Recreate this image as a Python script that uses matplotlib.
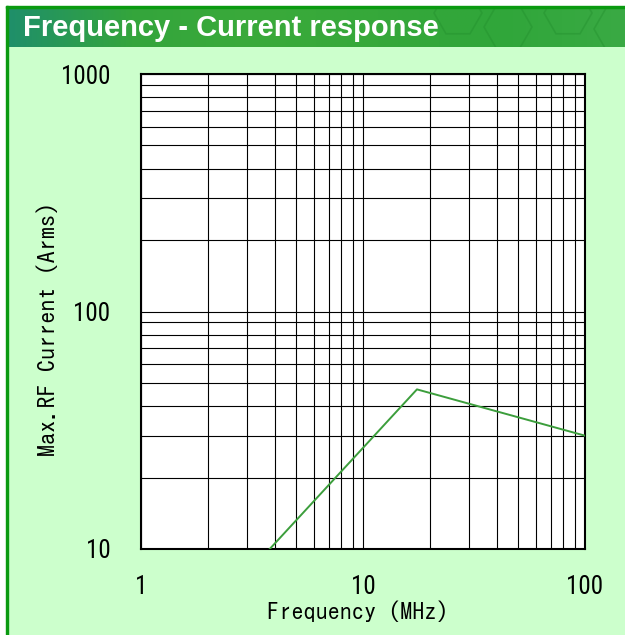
import matplotlib
matplotlib.use("Agg")
import numpy as np
import matplotlib.pyplot as plt
from matplotlib.patches import Rectangle, RegularPolygon
from matplotlib.ticker import LogLocator, FixedLocator, NullFormatter

# data
freq_mhz = [3.8, 17.5, 100]
current_arms = [10, 47, 30]

x_ticks = [1, 10, 100]
x_tick_labels = ["1", "10", "100"]
y_ticks = [10, 100, 1000]
y_tick_labels = ["10", "100", "1000"]

title = "Frequency - Current response"
xlabel = "Frequency (MHz)"
ylabel = "Max.RF Current (Arms)"

W, H = 625, 635
fig = plt.figure(figsize=(W / 100, H / 100), dpi=100)
fig.patch.set_facecolor("#ccffcc")


def px_rect(x0, y0, x1, y1, **kw):
    # rectangle given in pixel coords from the top-left corner
    r = Rectangle((x0 / W, 1 - y1 / H), (x1 - x0) / W, (y1 - y0) / H,
                  transform=fig.transFigure, **kw)
    fig.add_artist(r)
    return r


px_rect(0, 0, W, 6, color="white", zorder=0)
px_rect(0, 0, 6, H, color="white", zorder=0)

# banner with a soft gradient and faint hexagons
ban = fig.add_axes([8 / W, 1 - 47 / H, (W - 8) / W, 39 / H])
grad = np.linspace(0, 1, 256).reshape(1, -1)
cmap = matplotlib.colors.LinearSegmentedColormap.from_list(
    "ban", ["#1f8f6a", "#34a53c", "#3aaa3a", "#36a83a", "#30a63a", "#3aaa44"])
ban.imshow(grad, aspect="auto", cmap=cmap, extent=[0, W - 8, 0, 39])
for cx, cy in [(500, 20), (560, 34), (610, 18), (450, 34)]:
    ban.add_patch(RegularPolygon((cx, cy), 6, radius=24, orientation=np.pi / 6,
                                 fill=False, edgecolor="#1f8a2a", linewidth=1.2, alpha=0.35))
ban.set_xlim(0, W - 8)
ban.set_ylim(0, 39)
ban.set_axis_off()
ban.text(15, 18.5, title, color="white", fontsize=21, fontweight="bold",
         family=["Liberation Sans", "DejaVu Sans"], va="center", ha="left")

px_rect(6, 6, W, 8, color="#0a9a10", zorder=5)
px_rect(6, 6, 8, H, color="#0a9a10", zorder=5)

# chart
ax = fig.add_axes([141 / W, 1 - 549 / H, 444 / W, 475 / H])
ax.set_facecolor("white")
ax.set_xscale("log")
ax.set_yscale("log")
ax.set_xlim(1, 100)
ax.set_ylim(10, 1000)

ax.xaxis.set_major_locator(FixedLocator(x_ticks))
ax.yaxis.set_major_locator(FixedLocator(y_ticks))
ax.xaxis.set_minor_locator(LogLocator(base=10, subs=np.arange(2, 10)))
ax.yaxis.set_minor_locator(LogLocator(base=10, subs=np.arange(2, 10)))
ax.xaxis.set_minor_formatter(NullFormatter())
ax.yaxis.set_minor_formatter(NullFormatter())
ax.set_xticklabels(x_tick_labels)
ax.set_yticklabels(y_tick_labels)

ax.grid(True, which="both", color="black", linewidth=0.8)
ax.tick_params(which="both", length=0)
ax.tick_params(axis="x", pad=19)
ax.tick_params(axis="y", pad=22)
tick_font = ["Roboto Condensed", "Liberation Sans", "DejaVu Sans"]
for lab in ax.get_xticklabels() + ax.get_yticklabels():
    lab.set_family(tick_font)
    lab.set_fontsize(18)

for s in ax.spines.values():
    s.set_color("black")
    s.set_linewidth(1.5)

ax.plot(freq_mhz, current_arms, color="#3c9e3c", linewidth=1.4, zorder=3)

label_font = ["IPAGothic", "DejaVu Sans Mono"]
ax.set_xlabel(xlabel, family=label_font, fontsize=17.5)
ax.set_ylabel(ylabel, family=label_font, fontsize=17.5)
ax.xaxis.set_label_coords(0.489, -0.13)
ax.xaxis.label.set_verticalalignment("center")
ax.yaxis.set_label_coords(-0.212, 0.463)
ax.yaxis.label.set_verticalalignment("center")

fig.savefig("out.png", dpi=100, facecolor=fig.get_facecolor())
